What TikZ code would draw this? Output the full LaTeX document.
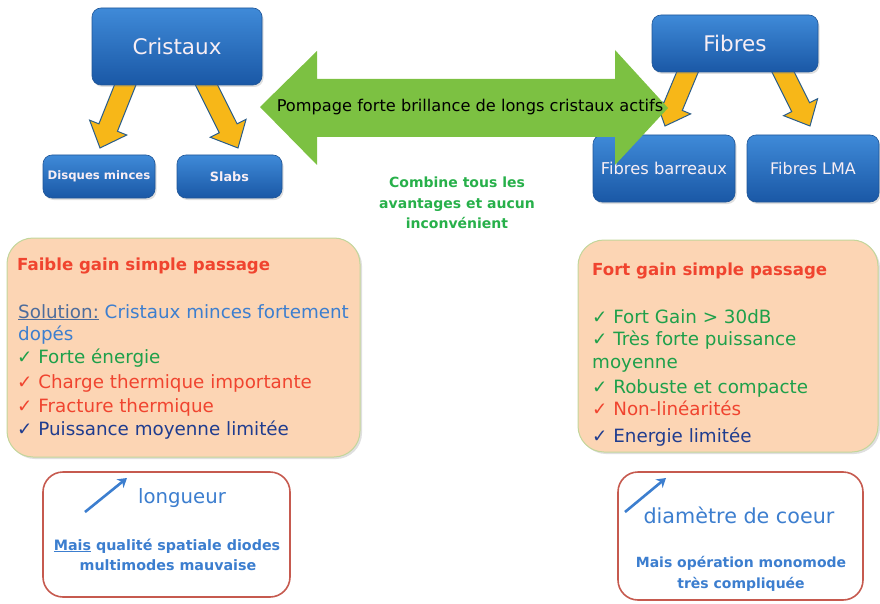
\documentclass[tikz,border=0pt]{standalone}
\usepackage{fontspec}
\setmainfont{DejaVu Sans}
\usetikzlibrary{shadows,arrows.meta,calc}
\definecolor{bxtop}{HTML}{3F8AD8}
\definecolor{bxbot}{HTML}{1A58A6}
\definecolor{bxedge}{HTML}{1F5596}
\definecolor{bxtext}{HTML}{F8EEF4}
\definecolor{ylw}{HTML}{F7B718}
\definecolor{ylwedge}{HTML}{2A5D8A}
\definecolor{grn}{HTML}{7CC142}
\definecolor{peach}{HTML}{FCD5B4}
\definecolor{peachedge}{HTML}{C3D69B}
\definecolor{redbox}{HTML}{C65A4F}
\definecolor{tred}{HTML}{F0442F}
\definecolor{tblue}{HTML}{3C7ECF}
\definecolor{tsol}{HTML}{4D6C9C}
\definecolor{tgreen}{HTML}{1EA04A}
\definecolor{tcomb}{HTML}{27B04A}
\definecolor{tnavy}{HTML}{1F3C8F}
\newcommand\blockarrow[6]{%
  \coordinate (tmpb) at ($(#3)!#6!(#2)$);
  \path[#1] ($(#2)!#4!90:(#3)$) -- ($(tmpb)!#4!90:(#3)$) -- ($(tmpb)!#5!90:(#3)$) -- (#3)
    -- ($(tmpb)!#5!-90:(#3)$) -- ($(tmpb)!#4!-90:(#3)$) -- ($(#2)!#4!-90:(#3)$) -- cycle;}
\begin{document}
\begin{tikzpicture}[x=1pt,y=-1pt,
  bluebox/.style={rounded corners=9pt, top color=bxtop, bottom color=bxbot, draw=bxedge, line width=0.6pt,
    text=bxtext, inner sep=0pt, drop shadow={opacity=0.25,shadow xshift=1.5pt,shadow yshift=-2pt}},
  yarrow/.style={fill=ylw, draw=ylwedge, line width=1pt, line join=miter},
  peachbox/.style={rounded corners=26pt, fill=peach, draw=peachedge, line width=1pt,
    drop shadow={opacity=0.25,shadow xshift=2pt,shadow yshift=-2pt}},
  whitebox/.style={rounded corners=20pt, fill=white, draw=redbox, line width=1.6pt},
  line/.style={anchor=base west, inner sep=0pt, font=\fontsize{18.3}{22}\selectfont},
  title/.style={anchor=base west, inner sep=0pt, text=tred, font=\bfseries\fontsize{16.6}{20}\selectfont},
  btext/.style={anchor=base, inner sep=0pt, text=tblue, font=\bfseries\fontsize{14.3}{16}\selectfont},
  ctext/.style={anchor=base, inner sep=0pt, text=tcomb, font=\bfseries\fontsize{14}{16}\selectfont},
  barrow/.style={draw=tblue, line width=2.6pt, -{Stealth[length=9pt,width=11pt]}}
]
\useasboundingbox (0,0) rectangle (880,604);

% yellow connector arrows (behind boxes)
\coordinate (a1s) at (128,78);  \coordinate (a1t) at (100,148);
\coordinate (a2s) at (203,78);  \coordinate (a2t) at (238,148);
\coordinate (a3s) at (690,66);  \coordinate (a3t) at (665,126);
\coordinate (a4s) at (780,66);  \coordinate (a4t) at (810,126);
\blockarrow{yarrow}{a1s}{a1t}{10pt}{20pt}{22pt}
\blockarrow{yarrow}{a2s}{a2t}{10pt}{20pt}{22pt}
\blockarrow{yarrow}{a3s}{a3t}{10pt}{19pt}{21pt}
\blockarrow{yarrow}{a4s}{a4t}{10pt}{19pt}{21pt}

% blue boxes
\node[bluebox, minimum width=170pt, minimum height=77pt, font=\fontsize{21.5}{24}\selectfont] (cri) at (177,46.5) {Cristaux};
\node[bluebox, minimum width=112pt, minimum height=43pt, font=\bfseries\fontsize{11.7}{13}\selectfont] (dis) at (99,176.5) {Disques minces};
\node[bluebox, minimum width=105pt, minimum height=43pt, font=\bfseries\fontsize{12.8}{14}\selectfont] (sla) at (229.5,176.5) {Slabs};
\node[bluebox, minimum width=166pt, minimum height=57pt, font=\fontsize{21.5}{24}\selectfont] (fib) at (735,43.5) {Fibres};
\node[bluebox, minimum width=142pt, minimum height=67pt, font=\fontsize{16.3}{18}\selectfont] (fba) at (664,168.5) {Fibres barreaux};
\node[bluebox, minimum width=132pt, minimum height=67pt, font=\fontsize{16}{18}\selectfont] (fla) at (813,168.5) {Fibres LMA};

% green double arrow
\path[fill=grn] (260,107) -- (317,51) -- (317,79) -- (615,79) -- (615,50) -- (668,108)
  -- (615,165) -- (615,137) -- (317,137) -- (317,165) -- cycle;
\node[anchor=base, inner sep=0pt, font=\fontsize{16.2}{18}\selectfont] (pomp) at (470,112) {Pompage forte brillance de longs cristaux actifs};

% combine text
\node[ctext] (c1) at (457,188) {Combine tous les};
\node[ctext] (c2) at (457,208) {avantages et aucun};
\node[ctext] (c3) at (457,228) {inconvénient};

% peach boxes
\node[peachbox, minimum width=353pt, minimum height=219pt] (lbox) at (183.5,347.5) {};
\node[peachbox, minimum width=300pt, minimum height=212pt] (rbox) at (728,346) {};

\node[title] (l0) at (17,270) {Faible gain simple passage};
\node[line, text=tblue] (l1) at (18,318) {\textcolor{tsol}{\underline{Solution:}} Cristaux minces fortement};
\node[line, text=tblue] (l2) at (18,340) {dopés};
\node[line, text=tgreen] (l3) at (17,363) {✓ Forte énergie};
\node[line, text=tred] (l4) at (17,388) {✓ Charge thermique importante};
\node[line, text=tred] (l5) at (17,412) {✓ Fracture thermique};
\node[line, text=tnavy] (l6) at (17,435) {✓ Puissance moyenne limitée};

\node[title] (r0) at (592,275) {Fort gain simple passage};
\node[line, text=tgreen] (r1) at (592,323) {✓ Fort Gain > 30dB};
\node[line, text=tgreen] (r2) at (592,345) {✓ Très forte puissance};
\node[line, text=tgreen] (r3) at (592,368) {moyenne};
\node[line, text=tgreen] (r4) at (592,393) {✓ Robuste et compacte};
\node[line, text=tred] (r5) at (592,415) {✓ Non-linéarités};
\node[line, text=tnavy] (r6) at (592,442) {✓ Energie limitée};

% bottom boxes
\node[whitebox, minimum width=247pt, minimum height=125pt] (lb) at (166.5,534.5) {};
\node[whitebox, minimum width=245pt, minimum height=128pt] (rb) at (740.5,536) {};

\coordinate (la1) at (85,512); \coordinate (la2) at (127,478);
\draw[barrow] (la1) -- (la2);
\node[anchor=base, inner sep=0pt, text=tblue, font=\fontsize{19.7}{22}\selectfont] (lon) at (182,503) {longueur};
\node[btext] (m1) at (167,550) {\underline{Mais} qualité spatiale diodes};
\node[btext] (m2) at (168,570) {multimodes mauvaise};

\coordinate (ra1) at (625,512); \coordinate (ra2) at (666,478);
\draw[barrow] (ra1) -- (ra2);
\node[anchor=base, inner sep=0pt, text=tblue, font=\fontsize{20.7}{24}\selectfont] (dia) at (739,523) {diamètre de coeur};
\node[btext, font=\bfseries\fontsize{14}{16}\selectfont] (n1) at (741,567) {Mais opération monomode};
\node[btext, font=\bfseries\fontsize{14}{16}\selectfont] (n2) at (741,588) {très compliquée};
\end{tikzpicture}
\end{document}
